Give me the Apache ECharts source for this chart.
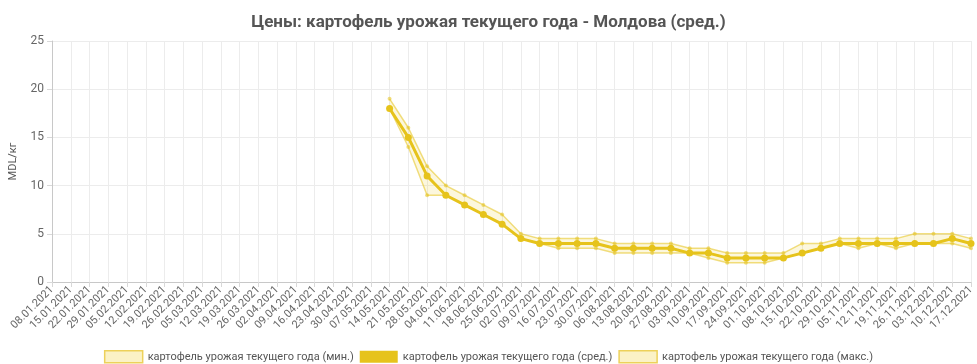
<!DOCTYPE html>
<html>
<head>
<meta charset="utf-8">
<script src="https://cdn.jsdelivr.net/npm/echarts@6/dist/echarts.min.js"></script>
<style>html,body{margin:0;padding:0;background:#fff;}#c{width:977px;height:364px;}</style>
</head>
<body>
<div id="c"></div>
<script>
const categories = [
  '08.01.2021','15.01.2021','22.01.2021','29.01.2021','05.02.2021','12.02.2021','19.02.2021','26.02.2021',
  '05.03.2021','12.03.2021','19.03.2021','26.03.2021','02.04.2021','09.04.2021','16.04.2021','23.04.2021',
  '30.04.2021','07.05.2021','14.05.2021','21.05.2021','28.05.2021','04.06.2021','11.06.2021','18.06.2021',
  '25.06.2021','02.07.2021','09.07.2021','16.07.2021','23.07.2021','30.07.2021','06.08.2021','13.08.2021',
  '20.08.2021','27.08.2021','03.09.2021','10.09.2021','17.09.2021','24.09.2021','01.10.2021','08.10.2021',
  '15.10.2021','22.10.2021','29.10.2021','05.11.2021','12.11.2021','19.11.2021','26.11.2021','03.12.2021',
  '10.12.2021','17.12.2021'
];
const N = null;
const minValues = [N,N,N,N,N,N,N,N,N,N,N,N,N,N,N,N,N,N,
  18,14,9,9,8,7,6,4.5,4,3.5,3.5,3.5,3,3,3,3,3,2.5,2,2,2,2.5,3,3.5,4,3.5,4,3.5,4,4,4,3.5];
const avgValues = [N,N,N,N,N,N,N,N,N,N,N,N,N,N,N,N,N,N,
  18,15,11,9,8,7,6,4.5,4,4,4,4,3.5,3.5,3.5,3.5,3,3,2.5,2.5,2.5,2.5,3,3.5,4,4,4,4,4,4,4.5,4];
const maxValues = [N,N,N,N,N,N,N,N,N,N,N,N,N,N,N,N,N,N,
  19,16,12,10,9,8,7,5,4.5,4.5,4.5,4.5,4,4,4,4,3.5,3.5,3,3,3,3,4,4,4.5,4.5,4.5,4.5,5,5,5,4.5];
const seriesNames = ['картофель урожая текущего года (мин.)','картофель урожая текущего года (сред.)','картофель урожая текущего года (макс.)'];

const gold = '#E6C31B';
const bandLine = 'rgba(230,195,27,0.55)';
const bandFill = 'rgba(240,210,60,0.25)';
const bandDiff = maxValues.map((v,i) => (v == null || minValues[i] == null) ? null : v - minValues[i]);

const chart = echarts.init(document.getElementById('c'), null, {renderer:'canvas'});
chart.setOption({
  animation: false,
  textStyle: {fontFamily: 'Roboto, sans-serif'},
  title: {
    text: 'Цены: картофель урожая текущего года - Молдова (сред.)',
    left: 'center', top: 9,
    textStyle: {fontSize: 17, fontWeight: 'bold', color: '#555', fontFamily: 'Roboto, sans-serif'}
  },
  legend: {
    top: 345, left: 'center',
    icon: 'rect', itemWidth: 38, itemHeight: 12, itemGap: 6,
    textStyle: {fontSize: 11, color: '#555'},
    data: [
      {name: seriesNames[0], itemStyle: {color: '#FBF2C6', borderColor: '#EDD15A', borderWidth: 1.5}},
      {name: seriesNames[1], itemStyle: {color: gold, borderColor: gold, borderWidth: 0}},
      {name: seriesNames[2], itemStyle: {color: '#FBF2C6', borderColor: '#EDD15A', borderWidth: 1.5}}
    ]
  },
  grid: {left: 49, right: 2, top: 41, bottom: 82, containLabel: false},
  xAxis: {
    type: 'category', data: categories, boundaryGap: false,
    axisLine: {lineStyle: {color: '#c8c8c8'}},
    axisTick: {show: true, lineStyle: {color: '#d8d8d8'}},
    axisLabel: {rotate: 45, interval: 0, fontSize: 11, color: '#666', margin: 6},
    splitLine: {show: true, lineStyle: {color: '#ececec'}}
  },
  yAxis: {
    type: 'value', min: 0, max: 25, interval: 5,
    name: 'MDL/кг', nameLocation: 'middle', nameGap: 33,
    nameTextStyle: {fontSize: 11, color: '#555'},
    axisLine: {show: true, lineStyle: {color: '#c8c8c8'}},
    axisTick: {show: true, lineStyle: {color: '#d8d8d8'}},
    axisLabel: {fontSize: 12, color: '#666', margin: 8},
    splitLine: {show: true, lineStyle: {color: '#ececec'}}
  },
  series: [
    {
      name: seriesNames[0], type: 'line', stack: 'band', data: minValues,
      symbol: 'circle', symbolSize: 4, showSymbol: true,
      lineStyle: {color: bandLine, width: 1.5},
      itemStyle: {color: bandLine},
      z: 2
    },
    {
      name: seriesNames[2], type: 'line', stack: 'band', data: bandDiff,
      symbol: 'circle', symbolSize: 4, showSymbol: true,
      lineStyle: {color: bandLine, width: 1.5},
      itemStyle: {color: bandLine},
      areaStyle: {color: bandFill, origin: 'auto'},
      z: 2
    },
    {
      name: seriesNames[1], type: 'line', data: avgValues,
      symbol: 'circle', symbolSize: 7, showSymbol: true,
      lineStyle: {color: gold, width: 3},
      itemStyle: {color: gold},
      z: 3
    }
  ]
});
</script>
</body>
</html>
